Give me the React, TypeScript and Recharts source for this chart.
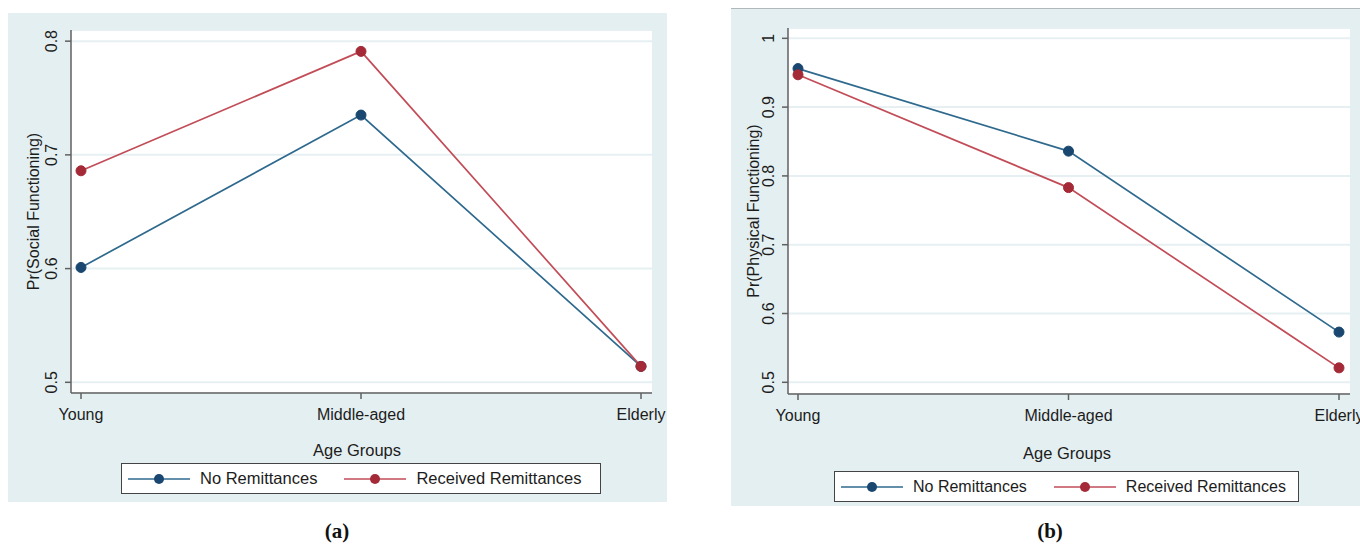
import React from 'react';
import { LineChart, Line, XAxis, YAxis, CartesianGrid } from 'recharts';

const ageGroups = ['Young', 'Middle-aged', 'Elderly'];
const seriesNames = ['No Remittances', 'Received Remittances'];

// (a) Pr(Social Functioning)
const socialNoRemit = [0.601, 0.735, 0.514];
const socialRemit = [0.686, 0.791, 0.514];
const socialTicks = [0.5, 0.6, 0.7, 0.8];

// (b) Pr(Physical Functioning)
const physicalNoRemit = [0.956, 0.836, 0.573];
const physicalRemit = [0.947, 0.783, 0.521];
const physicalTicks = [0.5, 0.6, 0.7, 0.8, 0.9, 1];

const FONT = '"Liberation Sans", Arial, "DejaVu Sans", sans-serif';
const TEXT = '#1c1c1c';
const AXIS = '#606060';
const BLUE_LINE = '#2f6a8e';
const BLUE_DOT = '#1a476f';
const RED_LINE = '#c24d58';
const RED_DOT = '#a52a38';
const PANEL_BG = '#e4eff1';

const buildRows = (a: number[], b: number[]) =>
    ageGroups.map((g, i) => ({ group: g, noRemit: a[i], remit: b[i] }));

const YTick = (props: any) => {
    const { x, y, payload } = props;
    const cx = x - 11;
    return (
        <text x={cx} y={y} transform={`rotate(-90, ${cx}, ${y})`} textAnchor="middle" dominantBaseline="central"
            fontSize={16} fill={TEXT} fontFamily={FONT}>
            {payload.value}
        </text>
    );
};

const XTick = (props: any) => {
    const { x, y, payload } = props;
    return (
        <text x={x} y={y + 13} textAnchor="middle" dominantBaseline="central" fontSize={16} fill={TEXT} fontFamily={FONT}>
            {payload.value}
        </text>
    );
};

interface PanelProps {
    left: number;
    rows: any[];
    domain: [number, number];
    ticks: number[];
    margin: { top: number; right: number; bottom: number; left: number };
    padding: { left: number; right: number };
    yLabel: string;
    yLabelOffset: number;
}

function Panel({ left, rows, domain, ticks, margin, padding, yLabel, yLabelOffset }: PanelProps) {
    return (
        <div style={{ position: 'absolute', left, top: 0 }}>
            <LineChart width={680} height={545} data={rows} margin={margin}>
                <CartesianGrid vertical={false} horizontal stroke="#e6f0f2" strokeWidth={2} fill="#ffffff" />
                <XAxis
                    dataKey="group"
                    height={30}
                    padding={padding}
                    tick={<XTick />}
                    tickSize={6}
                    axisLine={{ stroke: AXIS, strokeWidth: 1.5 }}
                    tickLine={{ stroke: AXIS, strokeWidth: 1.5 }}
                    interval={0}
                />
                <YAxis
                    width={40}
                    type="number"
                    domain={domain}
                    ticks={ticks}
                    allowDataOverflow
                    tick={<YTick />}
                    tickSize={6}
                    tickMargin={2}
                    axisLine={{ stroke: AXIS, strokeWidth: 1.5 }}
                    tickLine={{ stroke: AXIS, strokeWidth: 1.5 }}
                    label={{
                        content: (p: any) => {
                            const vb = p.viewBox;
                            const cx = vb.x + vb.width - yLabelOffset;
                            const cy = vb.y + vb.height / 2;
                            return (
                                <text x={cx} y={cy} transform={`rotate(-90, ${cx}, ${cy})`} textAnchor="middle"
                                    dominantBaseline="central" fontSize={16} fill={TEXT} fontFamily={FONT}>
                                    {yLabel}
                                </text>
                            );
                        },
                    }}
                />
                <Line dataKey="noRemit" name={seriesNames[0]} stroke={BLUE_LINE} strokeWidth={1.7} isAnimationActive={false}
                    dot={{ r: 5, fill: BLUE_DOT, stroke: BLUE_DOT, strokeWidth: 1 }} />
                <Line dataKey="remit" name={seriesNames[1]} stroke={RED_LINE} strokeWidth={1.7} isAnimationActive={false}
                    dot={{ r: 5, fill: RED_DOT, stroke: RED_DOT, strokeWidth: 1 }} />
            </LineChart>
        </div>
    );
}

const LegendKey = ({ line, dot }: { line: string; dot: string }) => (
    <svg width={62} height={14} style={{ display: 'block' }}>
        <line x1={0} y1={7} x2={62} y2={7} stroke={line} strokeWidth={1.7} />
        <circle cx={31} cy={7} r={5} fill={dot} />
    </svg>
);

function LegendBox({ left, top, width, fontSize }: { left: number; top: number; width: number; fontSize: number }) {
    return (
        <div style={{
            position: 'absolute', left, top, width, height: 31, boxSizing: 'border-box',
            border: '1.5px solid #444', background: '#fff', display: 'flex', alignItems: 'center',
            paddingLeft: 6, fontFamily: FONT, fontSize, color: TEXT,
        }}>
            <LegendKey line={BLUE_LINE} dot={BLUE_DOT} />
            <span style={{ marginLeft: 10 }}>{seriesNames[0]}</span>
            <span style={{ marginLeft: 27 }}><LegendKey line={RED_LINE} dot={RED_DOT} /></span>
            <span style={{ marginLeft: 10 }}>{seriesNames[1]}</span>
        </div>
    );
}

export default function App() {
    return (
        <div style={{ position: 'absolute', left: 0, top: 0, width: 1360, height: 545, background: '#fff', overflow: 'hidden' }}>
            {/* panel backgrounds */}
            <div style={{ position: 'absolute', left: 8, top: 13, width: 659, height: 489, background: PANEL_BG }} />
            <div style={{ position: 'absolute', left: 731, top: 8, width: 629, height: 498, background: PANEL_BG, borderTop: '1.5px solid #b0b8ba', boxSizing: 'border-box' }} />

            <Panel
                left={0}
                rows={buildRows(socialNoRemit, socialRemit)}
                domain={[0.4906, 0.8098]}
                ticks={socialTicks}
                margin={{ top: 30, right: 28, bottom: 122, left: 31 }}
                padding={{ left: 10, right: 11 }}
                yLabel="Pr(Social Functioning)"
                yLabelOffset={38}
            />
            <Panel
                left={680}
                rows={buildRows(physicalNoRemit, physicalRemit)}
                domain={[0.483, 1.015]}
                ticks={physicalTicks}
                margin={{ top: 28, right: 10, bottom: 121, left: 68 }}
                padding={{ left: 10, right: 11 }}
                yLabel="Pr(Physical Functioning)"
                yLabelOffset={35}
            />

            {/* x axis titles */}
            <div style={{ position: 'absolute', left: 257, width: 200, top: 441, textAlign: 'center', fontFamily: FONT, fontSize: 16.5, color: TEXT }}>Age Groups</div>
            <div style={{ position: 'absolute', left: 967, width: 200, top: 444, textAlign: 'center', fontFamily: FONT, fontSize: 16.5, color: TEXT }}>Age Groups</div>

            <LegendBox left={121} top={463} width={480} fontSize={16.5} />
            <LegendBox left={834} top={471} width={465} fontSize={16} />

            {/* captions */}
            <div style={{ position: 'absolute', left: 287, width: 100, top: 519, textAlign: 'center', fontFamily: '"Liberation Serif", "DejaVu Serif", serif', fontWeight: 'bold', fontSize: 21, color: '#111' }}>(a)</div>
            <div style={{ position: 'absolute', left: 1000, width: 100, top: 519, textAlign: 'center', fontFamily: '"Liberation Serif", "DejaVu Serif", serif', fontWeight: 'bold', fontSize: 21, color: '#111' }}>(b)</div>
        </div>
    );
}
